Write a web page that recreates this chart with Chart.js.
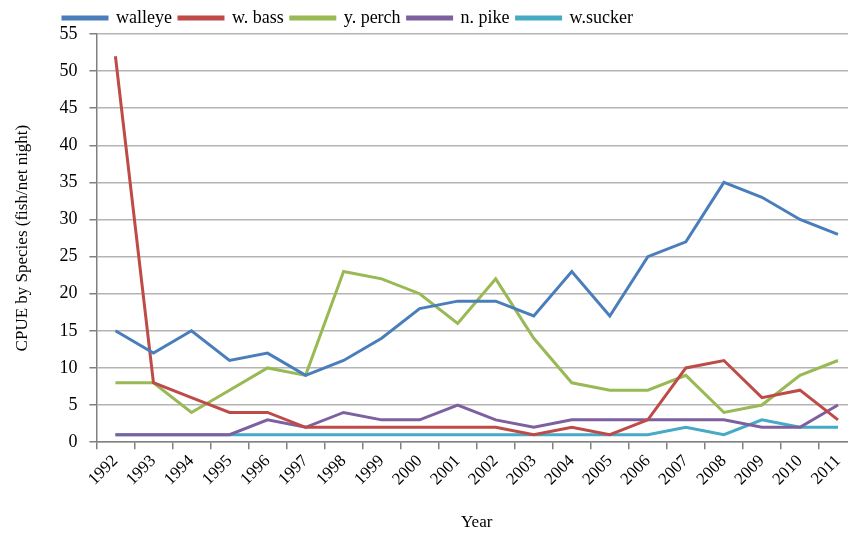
<!DOCTYPE html>
<html>
<head>
<meta charset="utf-8">
<script src="https://cdn.jsdelivr.net/npm/chart.js@4"></script>
<style>
  html, body { margin: 0; padding: 0; background: #fff; overflow: hidden; }
  /* the original chart runs a little past the right edge of the picture */
  #wrap { width: 857px; height: 535px; }
</style>
</head>
<body>
<div id="wrap"><canvas id="cpue"></canvas></div>
<script>
// values
var years = ["1992", "1993", "1994", "1995", "1996", "1997", "1998", "1999", "2000", "2001",
             "2002", "2003", "2004", "2005", "2006", "2007", "2008", "2009", "2010", "2011"];
var walleye  = [15, 12, 15, 11, 12, 9, 11, 14, 18, 19, 19, 17, 23, 17, 25, 27, 35, 33, 30, 28];
var wBass    = [52, 8, 6, 4, 4, 2, 2, 2, 2, 2, 2, 1, 2, 1, 3, 10, 11, 6, 7, 3];
var yPerch   = [8, 8, 4, 7, 10, 9, 23, 22, 20, 16, 22, 14, 8, 7, 7, 9, 4, 5, 9, 11];
var nPike    = [1, 1, 1, 1, 3, 2, 4, 3, 3, 5, 3, 2, 3, 3, 3, 3, 3, 2, 2, 5];
var wSucker  = [1, 1, 1, 1, 1, 1, 1, 1, 1, 1, 1, 1, 1, 1, 1, 2, 1, 3, 2, 2];

var serif = "'Liberation Serif', 'Times New Roman', serif";

function line(label, data, color) {
    return {
        label: label,
        data: data,
        borderColor: color,
        backgroundColor: color,
        borderWidth: 3,
        pointRadius: 0,
        tension: 0,
        fill: false
    };
}

// move the legend left (and a bit down) like the original
var legendShift = {
    id: 'legendShift',
    afterLayout: function (chart) {
        if (chart.legend) {
            chart.legend.left = 56;
            chart.legend.top += 3;
        }
    }
};

var ctx = document.getElementById("cpue").getContext('2d');
var cpueChart = new Chart(ctx, {
    type: 'line',
    data: {
        labels: years,
        datasets: [
            line("walleye", walleye, '#4A7EBB'),
            line("w. bass", wBass, '#BE4B48'),
            line("y. perch", yPerch, '#98B954'),
            line("n. pike", nPike, '#7D60A0'),
            line("w.sucker", wSucker, '#46AAC5')
        ]
    },
    options: {
        responsive: true,
        maintainAspectRatio: false,
        animation: false,
        layout: { padding: { top: -1, right: 0, left: 12, bottom: 2 } },
        plugins: {
            legend: {
                position: 'top',
                align: 'start',
                labels: {
                    font: { family: serif, size: 18 },
                    color: '#000',
                    boxWidth: 44,
                    boxHeight: 2,
                    padding: 7
                }
            },
            tooltip: { enabled: false }
        },
        scales: {
            x: {
                offset: true,
                afterFit: function (scale) { scale.paddingRight = 0; },
                grid: {
                    offset: true,
                    drawOnChartArea: false,
                    drawTicks: true,
                    tickLength: 7,
                    tickColor: '#808080',
                    lineWidth: 1.5
                },
                border: { color: '#808080', width: 1.5 },
                ticks: {
                    font: { family: serif, size: 17 },
                    color: '#000',
                    maxRotation: 45,
                    minRotation: 45,
                    autoSkip: false,
                    padding: 2
                },
                title: {
                    display: true,
                    text: 'Year',
                    font: { family: serif, size: 17 },
                    color: '#000',
                    padding: { top: 21, bottom: 0 }
                }
            },
            y: {
                min: 0,
                max: 55,
                ticks: {
                    stepSize: 5,
                    font: { family: serif, size: 18 },
                    color: '#000',
                    padding: 12
                },
                grid: {
                    color: '#b4b4b4',
                    lineWidth: 1.5,
                    tickLength: 7,
                    tickColor: '#808080'
                },
                border: { color: '#808080', width: 1.5 },
                title: {
                    display: true,
                    text: 'CPUE by Species (fish/net night)',
                    font: { family: serif, size: 17 },
                    color: '#000',
                    padding: { top: 0, bottom: 15 }
                }
            }
        }
    },
    plugins: [legendShift]
});
</script>
</body>
</html>
